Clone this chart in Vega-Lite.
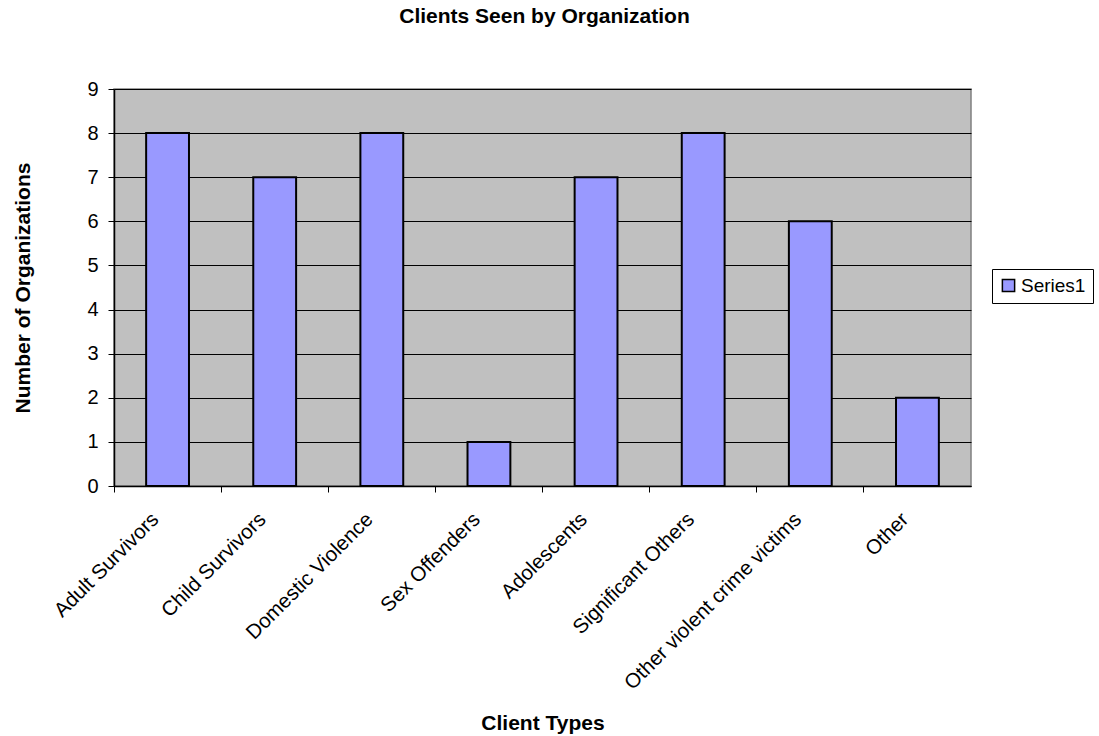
{
  "$schema": "https://vega.github.io/schema/vega-lite/v6.json",
  "width": 857,
  "height": 397,
  "autosize": "none",
  "padding": {"left": 114, "top": 89, "right": 128, "bottom": 250},
  "background": "white",
  "title": {
    "text": "Clients Seen by Organization",
    "font": "Liberation Sans",
    "fontSize": 21,
    "fontWeight": "bold",
    "color": "black",
    "anchor": "middle",
    "baseline": "alphabetic",
    "offset": 35,
    "dx": 2
  },
  "config": {
    "view": {"fill": "#C0C0C0", "stroke": "#808080", "strokeWidth": 1.5},
    "font": "Liberation Sans"
  },
  "data": {
    "values": [
      {"type": "Adult Survivors", "count": 8, "series": "Series1"},
      {"type": "Child Survivors", "count": 7, "series": "Series1"},
      {"type": "Domestic Violence", "count": 8, "series": "Series1"},
      {"type": "Sex Offenders", "count": 1, "series": "Series1"},
      {"type": "Adolescents", "count": 7, "series": "Series1"},
      {"type": "Significant Others", "count": 8, "series": "Series1"},
      {"type": "Other violent crime victims", "count": 6, "series": "Series1"},
      {"type": "Other", "count": 2, "series": "Series1"}
    ]
  },
  "mark": {"type": "bar", "stroke": "black", "strokeWidth": 2, "width": {"band": 0.4}},
  "encoding": {
    "x": {
      "field": "type",
      "type": "nominal",
      "sort": null,
      "scale": {"paddingInner": 0, "paddingOuter": 0},
      "axis": {
        "title": "Client Types",
        "titleFont": "Liberation Sans",
        "titleFontSize": 21,
        "titleFontWeight": "bold",
        "titleColor": "black",
        "titleBaseline": "alphabetic",
        "titleY": 243,
        "labelAngle": -45,
        "labelAlign": "right",
        "labelBaseline": "middle",
        "labelFontSize": 20.5,
        "labelColor": "black",
        "labelPadding": 24,
        "labelOffset": -12,
        "labelLimit": 400,
        "bandPosition": 0,
        "tickColor": "black",
        "tickSize": 6,
        "domainColor": "black",
        "domainWidth": 1.5,
        "grid": false
      }
    },
    "y": {
      "field": "count",
      "type": "quantitative",
      "scale": {"domain": [0, 9], "nice": false},
      "axis": {
        "title": "Number of Organizations",
        "titleFont": "Liberation Sans",
        "titleFontSize": 21,
        "titleFontWeight": "bold",
        "titleColor": "black",
        "titleBaseline": "alphabetic",
        "titleX": -85,
        "values": [0, 1, 2, 3, 4, 5, 6, 7, 8, 9],
        "labelFontSize": 20,
        "labelColor": "black",
        "labelPadding": 10,
        "tickColor": "black",
        "tickSize": 6,
        "domainColor": "black",
        "domainWidth": 1.5,
        "grid": true,
        "gridColor": "black",
        "gridWidth": 1
      }
    },
    "color": {
      "field": "series",
      "type": "nominal",
      "scale": {"range": ["#9999FF"]},
      "legend": {
        "title": null,
        "orient": "none",
        "legendX": 878,
        "legendY": 180,
        "strokeColor": "black",
        "fillColor": "white",
        "padding": 7,
        "symbolType": "square",
        "symbolSize": 150,
        "symbolStrokeColor": "black",
        "symbolStrokeWidth": 1.5,
        "labelFontSize": 19,
        "labelColor": "black",
        "labelOffset": 3
      }
    }
  }
}
